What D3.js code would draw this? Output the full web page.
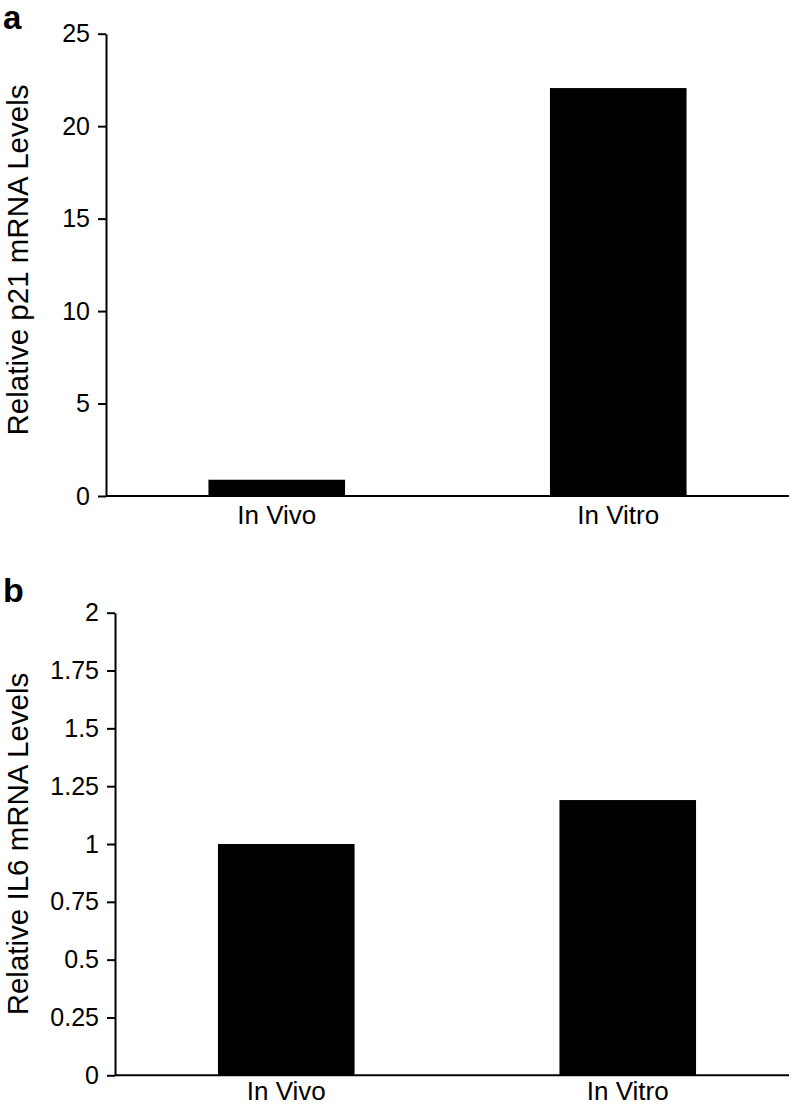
<!DOCTYPE html>
<html>
<head>
<meta charset="utf-8">
<script src="https://cdn.jsdelivr.net/npm/d3@7/dist/d3.min.js"></script>
<style>
  html, body { margin: 0; padding: 0; background: #fff; }
  svg { display: block; font-family: "Liberation Sans", Arial, Helvetica, sans-serif; }
</style>
</head>
<body>
<svg id="chart" width="791" height="1106"></svg>
<script>
// ---- data ----
const categories = ["In Vivo", "In Vitro"];
const p21Values = [0.88, 22.06];
const il6Values = [1.0, 1.19];
const p21Ticks = [0, 5, 10, 15, 20, 25];
const p21TickLabels = ["0", "5", "10", "15", "20", "25"];
const il6Ticks = [0, 0.25, 0.5, 0.75, 1, 1.25, 1.5, 1.75, 2];
const il6TickLabels = ["0", "0.25", "0.5", "0.75", "1", "1.25", "1.5", "1.75", "2"];
const panelLetters = ["a", "b"];
const yTitles = ["Relative p21 mRNA Levels", "Relative IL6 mRNA Levels"];

const svg = d3.select("#chart");

function panel(cfg) {
  const g = svg.append("g");
  const y = d3.scaleLinear().domain(cfg.yDomain).range([cfg.y0, cfg.y1]);
  const x = d3.scaleBand().domain(categories).range([cfg.x0, cfg.x1])
    .paddingInner(0.6).paddingOuter(0.3);

  // bars
  g.selectAll("rect.bar").data(cfg.values).enter().append("rect")
    .attr("class", "bar")
    .attr("x", (d, i) => x(categories[i]))
    .attr("width", x.bandwidth())
    .attr("y", d => y(d))
    .attr("height", d => y(0) - y(d))
    .attr("fill", "#000");

  // y axis
  const yAxis = d3.axisLeft(y).tickValues(cfg.ticks)
    .tickFormat((d, i) => cfg.tickLabels[i])
    .tickSize(8).tickPadding(8).tickSizeOuter(0);
  const ya = g.append("g").attr("transform", `translate(${cfg.axisX},0)`).call(yAxis);
  ya.select(".domain").attr("stroke-width", 2);
  ya.selectAll(".tick line").attr("stroke-width", 2);
  ya.selectAll(".tick text").attr("font-size", 25).attr("fill", "#000")
    .attr("font-family", "Liberation Sans, Arial, sans-serif");

  // x axis (category labels)
  const xAxis = d3.axisBottom(x).tickSize(0).tickPadding(cfg.xPad);
  const xa = g.append("g").attr("transform", `translate(0,${cfg.y0})`).call(xAxis);
  xa.select(".domain").remove();
  xa.selectAll(".tick text").attr("font-size", 26).attr("fill", "#000")
    .attr("font-family", "Liberation Sans, Arial, sans-serif")
    .attr("dy", null).attr("dominant-baseline", "alphabetic")
    .attr("y", cfg.labelBaseline);
  g.append("line")
    .attr("x1", cfg.axisX).attr("x2", cfg.lineEnd)
    .attr("y1", cfg.y0).attr("y2", cfg.y0)
    .attr("stroke", "#000").attr("stroke-width", 2);

  // y title
  g.append("text")
    .attr("transform", `translate(${cfg.titleX},${cfg.titleY}) rotate(-90)`)
    .attr("text-anchor", "middle")
    .attr("font-size", 29.5)
    .attr("fill", "#000")
    .text(cfg.title);

  // panel letter
  g.append("text")
    .attr("x", 3).attr("y", cfg.letterY)
    .attr("font-size", cfg.letterSize).attr("font-weight", "bold")
    .attr("fill", "#000")
    .text(cfg.letter);
}

panel({
  values: p21Values, yDomain: [0, 25], ticks: p21Ticks, tickLabels: p21TickLabels,
  y0: 496, y1: 33.7, x0: 106, x1: 789, axisX: 106, lineEnd: 789, xPad: 10,
  labelBaseline: 28,
  title: yTitles[0], titleX: 27.5, titleY: 260, letter: panelLetters[0], letterY: 29, letterSize: 33
});

panel({
  values: il6Values, yDomain: [0, 2], ticks: il6Ticks, tickLabels: il6TickLabels,
  y0: 1075.3, y1: 612.7, x0: 115.5, x1: 798.5, axisX: 115, lineEnd: 789, xPad: 11,
  labelBaseline: 24.5,
  title: yTitles[1], titleX: 27.5, titleY: 844, letter: panelLetters[1], letterY: 602, letterSize: 34
});
</script>
</body>
</html>
